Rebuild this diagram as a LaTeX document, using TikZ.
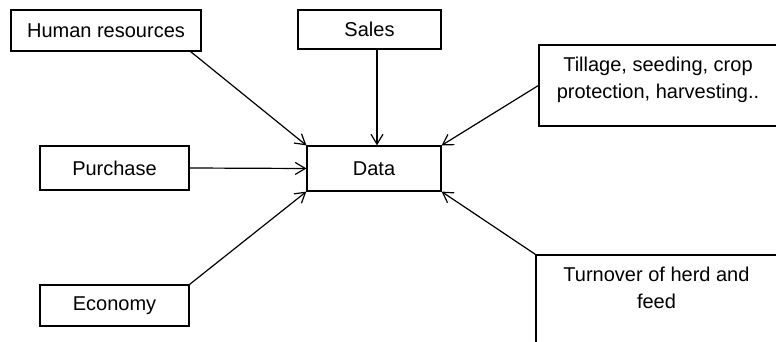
\documentclass[tikz,border=0pt]{standalone}
\usepackage{fontspec}
\setmainfont{Liberation Sans}
\usetikzlibrary{arrows.meta}

\tikzset{
    box/.style={draw, line width=0.6pt, inner sep=0pt, font=\fontsize{10}{13.5}\selectfont},
    arr/.style={line width=0.6pt, -{Straight Barb[length=5pt,width=6pt]}}
}

\begin{document}
\begin{tikzpicture}[x=0.5pt, y=-0.5pt]
    \useasboundingbox (0,0) rectangle (776,342);

    % Centre box
    \node[box, minimum width=67pt, minimum height=22.5pt] (data) at (374,168.5) {Data};

    % Source boxes
    % -- left side
    \node[box, minimum width=95pt, minimum height=20.5pt] (hr) at (106,30.5) {Human resources};
    \node[box, minimum width=74.5pt, minimum height=22pt] (purchase) at (114.5,168) {Purchase};
    \node[box, minimum width=74.5pt, minimum height=20.5pt] (economy) at (114.5,305.5) {Economy};

    % -- top
    \node[box, minimum width=71.5pt, minimum height=19.5pt] (sales) at (369.5,29.5) {Sales};

    % -- right side
    \node[box] (tillage) at (658,85.5) {\parbox[c][40.5pt][t]{119pt}{\centering\vspace*{6pt}Tillage, seeding, crop\\protection, harvesting..}};
    \node[box] (turnover) at (656.5,303.5) {\parbox[c][48.5pt][t]{120.5pt}{\centering\vspace*{6pt}Turnover of herd and\\feed}};

    % Arrows into Data
    \coordinate (s) at ([xshift=1.5pt]data.north);
    \draw[arr] ([xshift=-5.5pt]hr.south east) -- (data.north west);
    \draw[arr] (s |- sales.south) -- (s);
    \draw[arr] (purchase.east) -- (data.west);
    \draw[arr] (economy.north east) -- (data.south west);
    \draw[arr] (tillage.west) -- (data.north east);
    \draw[arr] (turnover.north west) -- (data.south east);
\end{tikzpicture}
\end{document}
